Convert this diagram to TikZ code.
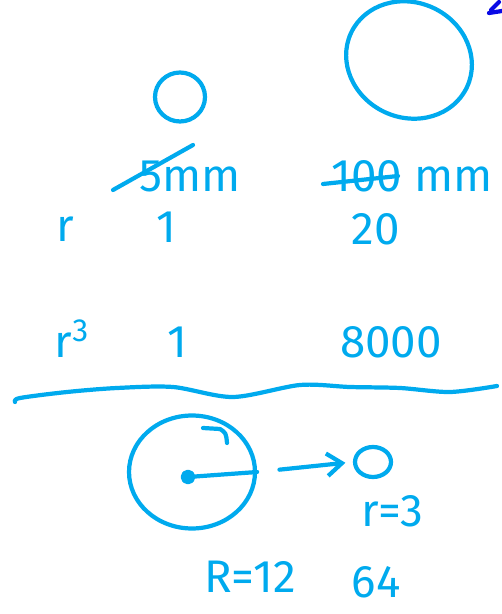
\documentclass[tikz,border=0pt]{standalone}
\usepackage{fontspec}
\setmainfont{Fira Sans}
\usetikzlibrary{shapes.geometric,arrows.meta}
\definecolor{sketchink}{HTML}{00AAEE}
\definecolor{penblue}{HTML}{0A0AE6}

\begin{document}
\begin{tikzpicture}[x=0.02cm,y=-0.02cm,
  point/.style={coordinate},
  ring/.style={draw=sketchink, ellipse, line width=2.4pt, inner sep=0pt},
  hand/.style={text=sketchink, font=\fontsize{26}{30}\selectfont, inner sep=0pt},
  every path/.style={draw=sketchink, line width=2.4pt, line cap=round, line join=round}]
\path[draw=none, use as bounding box] (0,0) rectangle (502,614);
% top: the two spheres
\node[ring, minimum width=1cm, minimum height=0.98cm] (small) at (180,97) {};
\node[ring, minimum width=2.56cm, minimum height=2.3cm, rotate=-25] (big) at (409,60) {};
\draw[penblue] (489,13) -- (502,11);
\draw[penblue] (491,10) -- (499,2);
% sizes
\node[hand] (d1) at (190,176) {5mm};
\node[hand] (d2) at (412,176) {100 mm};
\draw (113,190) -- (193,145);
\draw (323,184) -- (398,176);
% r and r^3
\node[hand] (r) at (65,229) {r};
\node[hand] (r1) at (166,227) {1};
\node[hand] (r2) at (376,229) {20};
\node[hand] (c) at (72,339) {r$^{\mathrm{3}}$};
\node[hand] (c1) at (177,342) {1};
\node[hand] (c2) at (391,342) {8000};
% divider
\draw plot[smooth] coordinates {(15,402) (20,398) (67,392) (117,388) (173,387) (233,397) (300,385) (350,387) (400,388) (450,392) (497,386)};
% bottom: R=12 sphere split into r=3 spheres
\node[ring, minimum width=2.52cm, minimum height=2.26cm] (ball) at (192,472) {};
\node[point] (ctr) at (188,477) {};
\fill[sketchink] (ctr) circle (3pt);
\draw (ctr) -- (ball.east);
\draw (203,428) -- (220,429) .. controls (226,433) .. (227,443);
\node[ring, minimum width=0.72cm, minimum height=0.6cm] (bead) at (373,462) {};
\draw[-{Straight Barb[length=0.3cm,width=0.45cm]}, shorten <=0.45cm, shorten >=0.15cm] (ball.east) -- (bead.west);
\node[hand] (rr) at (392,511) {r=3};
\node[hand] (RR) at (250,577) {R=12};
\node[hand] (n) at (376,582) {64};
\end{tikzpicture}
\end{document}
